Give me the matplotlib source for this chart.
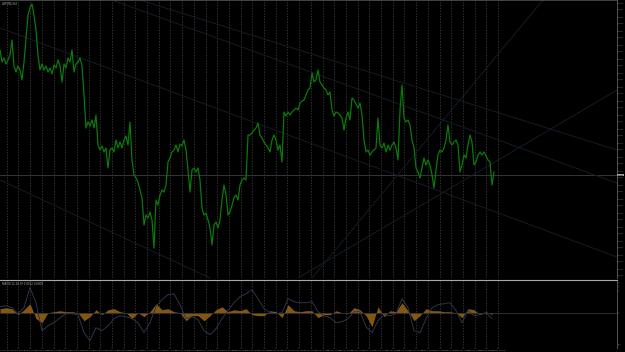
import numpy as np
import matplotlib
matplotlib.use("Agg")
import matplotlib.pyplot as plt
from matplotlib.ticker import FuncFormatter

# price series (chart points, one bar every 2 px)
close_pts = [228, 216, 220, 214, 218, 223, 238, 212, 206, 212, 208, 198, 216, 240, 263, 270,
             274, 263, 248, 223, 208, 214, 208, 212, 206, 210, 204, 213, 210, 218, 212, 196,
             214, 210, 220, 216, 228, 206, 214, 216, 220, 212, 183, 150, 156, 152, 158, 150,
             163, 133, 128, 132, 126, 130, 110, 128, 130, 126, 138, 130, 136, 130, 138, 142,
             133, 156, 118, 103, 100, 96, 88, 80, 53, 63, 60, 66, 58, 30, 78, 73,
             83, 88, 86, 93, 116, 120, 126, 128, 133, 126, 134, 132, 138, 128, 108, 86,
             108, 110, 106, 110, 98, 70, 63, 65, 58, 50, 33, 53, 56, 50, 58, 78,
             93, 83, 63, 66, 73, 80, 83, 78, 93, 98, 100, 98, 143, 143, 145, 148,
             150, 155, 143, 140, 136, 133, 130, 126, 138, 143, 138, 128, 133, 116, 166, 162,
             166, 163, 166, 168, 170, 168, 175, 177, 178, 183, 188, 190, 205, 196, 198, 208,
             196, 193, 190, 188, 183, 186, 168, 162, 166, 165, 163, 160, 148, 160, 166, 158,
             180, 178, 174, 170, 175, 163, 138, 126, 128, 123, 126, 128, 130, 160, 133, 130,
             135, 126, 133, 128, 133, 136, 130, 118, 168, 193, 160, 156, 158, 153, 138, 130,
             110, 106, 100, 110, 120, 113, 118, 113, 103, 90, 108, 123, 128, 126, 130, 138,
             153, 136, 133, 136, 138, 133, 106, 113, 123, 120, 133, 143, 136, 113, 116, 123,
             126, 123, 126, 122, 118, 116, 93, 106]

# oscillator panel, one value every 3 bars
osc_hist = [4, 5, 4, -2, 3, 9, -6, -10, 0, 1, 2, 1, 1, 0, -8, -4, 3, -2, 3, 4, 1, 0,
            -6, 0, -4, 1, 9, 3, 4, 1, 0, -8, -3,
            -3, -8, -3, 3, 6, 1, 3, 2, 4, -2, -3, -3, 2, 1, -5, 8, 2, 1, 2, 2,
            -5, -2, -2, 2, 0, -1, 5, 3, -3, -14, 6, -4, 2, 1, 10, 2,
            -8, -3, 4, 2, 2, 1, 1, 0, -5, 4, 3, -2, 1, -2]
osc_signal = [6, 7, 5, -1, 5, 25, 10, -18, -13, -10, -5, -1, -1, -2, -20, -28, -15, -18,
              -13, -6, -3, -4, -6, -10, -20, -10, 6, 13, 18, 19, 8, -6, -4,
              -7, -18, -22, -16, -6, 2, 10, 16, 19, 23, 14, 4, 0, -1, 0, 14, 11, 10,
              10, 11, 1, -3, -5, -10, -9, -6, 1, 1, -14, -20, -8, -2, -3, -1, 14, 5,
              -18, -20, -6, 5, 8, 9, 10, 2, -10, 2, -3, -2, 0, -6]

# trend lines drawn on the chart: (bar0, pts0, bar1, pts1)
trend_lines = [(70, 278, 308.5, 128), (56, 278, 308.5, 95), (0, 250, 308.5, 21),
               (0, 98, 105, 0), (156, 0, 271.5, 278), (149, 0, 308.5, 188)]
level_pts = 103

date_labels = ["%d %s %02d:00" % (d, m, h) for m in ["Feb", "Mar", "Apr", "May"]
               for d in (3, 10, 17, 24) for h in (0, 8, 16)][:43]


def price_fmt(v, pos):
    return "1.%04d" % int(6400 + v * 2)


def main():
    fig = plt.figure(figsize=(6.25, 3.52), dpi=100, facecolor="black")
    w = 617 / 625
    ax = fig.add_axes([0, 74 / 352, w, 278 / 352], facecolor="black")
    ax2 = fig.add_axes([0, 4 / 352, w, 68 / 352], facecolor="black")

    n_bars = 308.5
    grid_x = 3.35 + np.arange(43) * 5.85

    for a in (ax, ax2):
        a.set_xlim(0, n_bars)
        a.set_xticks(grid_x)
        a.grid(axis="x", color="#454545", ls=(0, (2, 2)), lw=0.5)
        a.yaxis.tick_right()
        a.tick_params(axis="y", colors="#707070", labelsize=1.3, length=0.6, width=0.3, pad=0.2)
        for s in ("left", "bottom"):
            a.spines[s].set_visible(False)
        a.spines["right"].set_color("#606060")
        a.spines["right"].set_linewidth(0.6)
        a.spines["top"].set_color("#505050")
        a.spines["top"].set_linewidth(0.6)
        a.set_axisbelow(True)

    # main price panel
    ax.set_ylim(0, 278)
    ax.set_yticks(np.arange(2, 278, 7))
    ax.yaxis.set_major_formatter(FuncFormatter(price_fmt))
    ax.tick_params(axis="x", length=0, labelbottom=False)
    ax.axhline(level_pts, color="#353535", lw=0.7)
    for x0, y0, x1, y1 in trend_lines:
        ax.plot([x0, x1], [y0, y1], color="#141c27", lw=0.7)
    bars = np.arange(len(close_pts))
    ax.plot(bars, close_pts, color="#0a7a0a", lw=0.9)
    ax.text(n_bars + 0.3, level_pts, "1.%04d" % (6400 + level_pts * 2), fontsize=1.3,
            color="black", va="center", ha="left",
            bbox=dict(boxstyle="square,pad=0.15", fc="#a0a0a0", ec="none"), clip_on=False)
    ax.text(1, 276, "GBPUSD,H4", fontsize=2, color="#aaaaaa", va="top")

    # oscillator panel
    ax2.set_ylim(-35.3, 32.7)
    ax2.set_yticks([-32, 0, 22, 26, 30])
    ax2.spines["top"].set_color("#a8a8a8")
    ax2.spines["top"].set_linewidth(0.8)
    ax2.axhline(0, color="#353535", lw=0.6)
    hx = np.arange(len(osc_hist)) * 3
    ax2.fill_between(hx, 0, osc_hist, color="#845614", lw=0)
    sx = np.arange(len(osc_signal)) * 3
    ax2.plot(sx, osc_signal, color="#2c3648", lw=0.7)
    ax2.text(1, 31, "MACD(12,26,9) 0.0012 0.0009", fontsize=2, color="#aaaaaa", va="top")
    ax2.set_xticklabels(date_labels)
    ax2.tick_params(axis="x", colors="#888888", labelsize=1.6, length=1, width=0.3, pad=0.3)

    plt.savefig("out.png", dpi=100, facecolor="black")


if __name__ == "__main__":
    main()
